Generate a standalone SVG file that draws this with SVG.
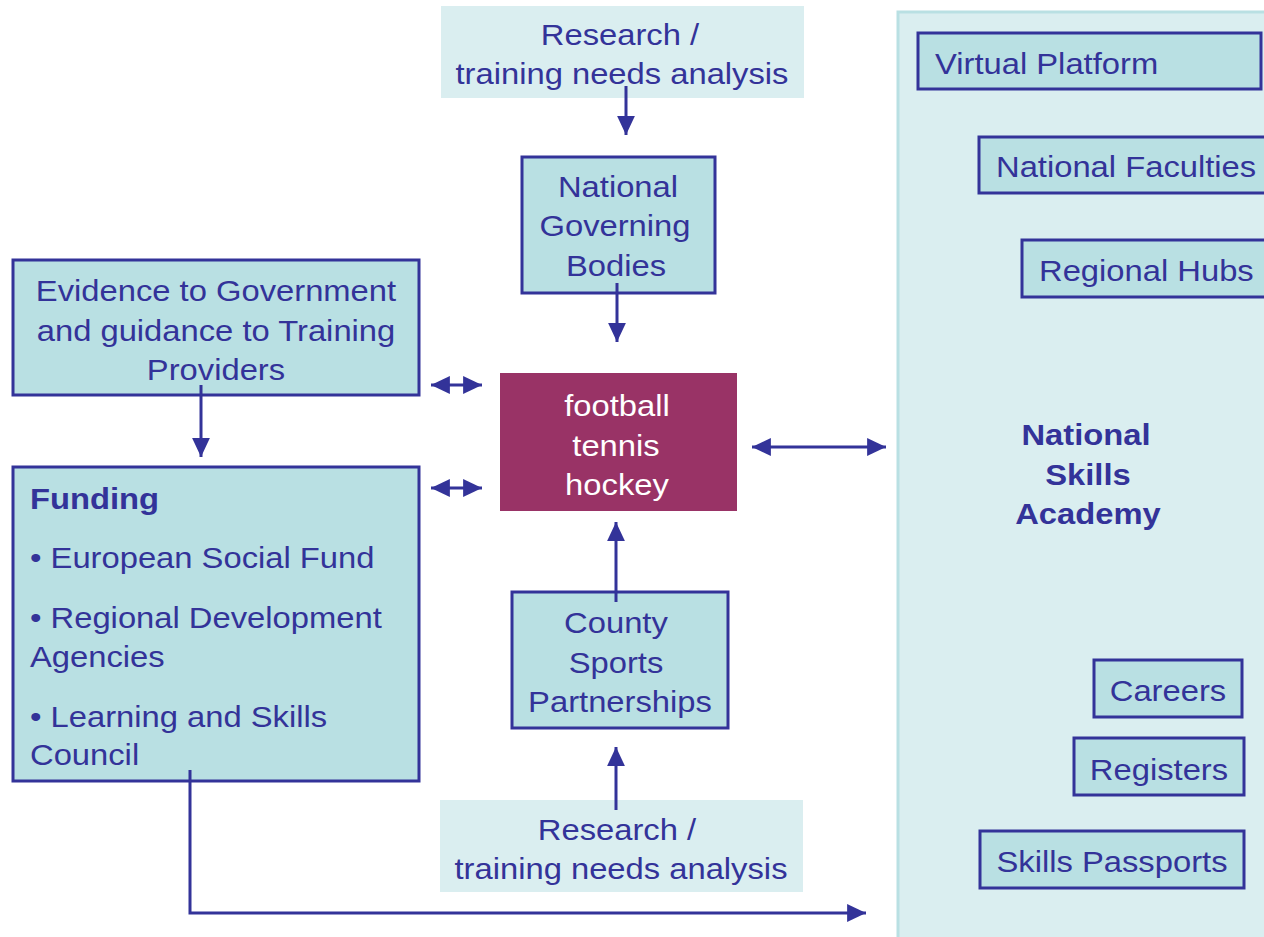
<svg xmlns="http://www.w3.org/2000/svg" width="1264" height="937" viewBox="0 0 1264 937">
<defs>
<marker id="ah" markerUnits="userSpaceOnUse" markerWidth="20" markerHeight="20" viewBox="0 0 18 18" refX="17" refY="9" orient="auto-start-reverse">
<path d="M0,1 L17,9 L0,17 Z" fill="#333399"/>
</marker>
</defs>
<style>
.n{fill:#b9e0e3;stroke:#333399;stroke-width:3}
.lt{fill:#daeef0}
.t{font-family:"Liberation Sans",Arial,sans-serif;font-size:29.5px;fill:#333399;transform-box:fill-box;transform-origin:center;transform:scaleX(1.11)}
.c{text-anchor:middle}
.l{text-anchor:start;transform-origin:0 50%}
.b{font-weight:bold}
.w{fill:#ffffff}
.cn{fill:none;stroke:#333399;stroke-width:3}
</style>
<rect width="1264" height="937" fill="#ffffff"/>
<g id="academy">
<rect x="898" y="12" width="370" height="930" fill="#daeef0" stroke="#b9e0e3" stroke-width="3"/>
<text class="t b c" x="1086" y="445">National</text>
<text class="t b c" x="1088" y="485">Skills</text>
<text class="t b c" x="1088" y="524">Academy</text>
</g>
<g id="research-top">
<rect class="lt" x="441" y="6" width="363" height="92"/>
<text class="t c" x="620" y="45">Research /</text>
<text class="t c" x="622" y="84">training needs analysis</text>
</g>
<g id="ngb">
<rect class="n" x="522" y="157" width="193" height="136"/>
<text class="t c" x="618" y="197">National</text>
<text class="t c" x="615" y="236">Governing</text>
<text class="t c" x="616" y="276">Bodies</text>
</g>
<g id="evidence">
<rect class="n" x="13" y="260" width="406" height="135"/>
<text class="t c" x="216" y="301">Evidence to Government</text>
<text class="t c" x="216" y="341">and guidance to Training</text>
<text class="t c" x="216" y="380">Providers</text>
</g>
<g id="sports">
<rect x="500" y="373" width="237" height="138" fill="#993366"/>
<text class="t c w" x="617" y="416">football</text>
<text class="t c w" x="616" y="456">tennis</text>
<text class="t c w" x="617" y="495">hockey</text>
</g>
<g id="funding">
<rect class="n" x="13" y="467" width="406" height="314"/>
<text class="t b l" x="30" y="509">Funding</text>
<text class="t l" x="30" y="568">• European Social Fund</text>
<text class="t l" x="30" y="628">• Regional Development</text>
<text class="t l" x="30" y="667">Agencies</text>
<text class="t l" x="30" y="727">• Learning and Skills</text>
<text class="t l" x="30" y="765">Council</text>
</g>
<g id="county">
<rect class="n" x="512" y="592" width="216" height="136"/>
<text class="t c" x="616" y="633">County</text>
<text class="t c" x="616" y="673">Sports</text>
<text class="t c" x="620" y="712">Partnerships</text>
</g>
<g id="research-bottom">
<rect class="lt" x="440" y="800" width="363" height="92"/>
<text class="t c" x="617" y="840">Research /</text>
<text class="t c" x="621" y="879">training needs analysis</text>
</g>
<g id="virtual-platform">
<rect class="n" x="918" y="33" width="343" height="56"/>
<text class="t l" x="935" y="74">Virtual Platform</text>
</g>
<g id="national-faculties">
<rect class="n" x="979" y="137" width="300" height="56"/>
<text class="t l" x="996" y="177">National Faculties</text>
</g>
<g id="regional-hubs">
<rect class="n" x="1022" y="240" width="260" height="57"/>
<text class="t l" x="1039" y="281">Regional Hubs</text>
</g>
<g id="careers">
<rect class="n" x="1094" y="660" width="148" height="57"/>
<text class="t c" x="1168" y="701">Careers</text>
</g>
<g id="registers">
<rect class="n" x="1074" y="738" width="170" height="57"/>
<text class="t c" x="1159" y="780">Registers</text>
</g>
<g id="skills-passports">
<rect class="n" x="980" y="831" width="264" height="57"/>
<text class="t c" x="1112" y="872">Skills Passports</text>
</g>
<g id="connectors">
<line class="cn" x1="626" y1="86" x2="626" y2="135" marker-end="url(#ah)"/>
<line class="cn" x1="617" y1="283" x2="617" y2="342" marker-end="url(#ah)"/>
<line class="cn" x1="201" y1="385" x2="201" y2="457" marker-end="url(#ah)"/>
<line class="cn" x1="431" y1="385" x2="482" y2="385" marker-start="url(#ah)" marker-end="url(#ah)"/>
<line class="cn" x1="431" y1="488" x2="482" y2="488" marker-start="url(#ah)" marker-end="url(#ah)"/>
<line class="cn" x1="752" y1="447" x2="886" y2="447" marker-start="url(#ah)" marker-end="url(#ah)"/>
<line class="cn" x1="616" y1="602" x2="616" y2="522" marker-end="url(#ah)"/>
<line class="cn" x1="616" y1="810" x2="616" y2="747" marker-end="url(#ah)"/>
<polyline class="cn" points="190,770 190,913 866,913" marker-end="url(#ah)"/>
</g>
</svg>
